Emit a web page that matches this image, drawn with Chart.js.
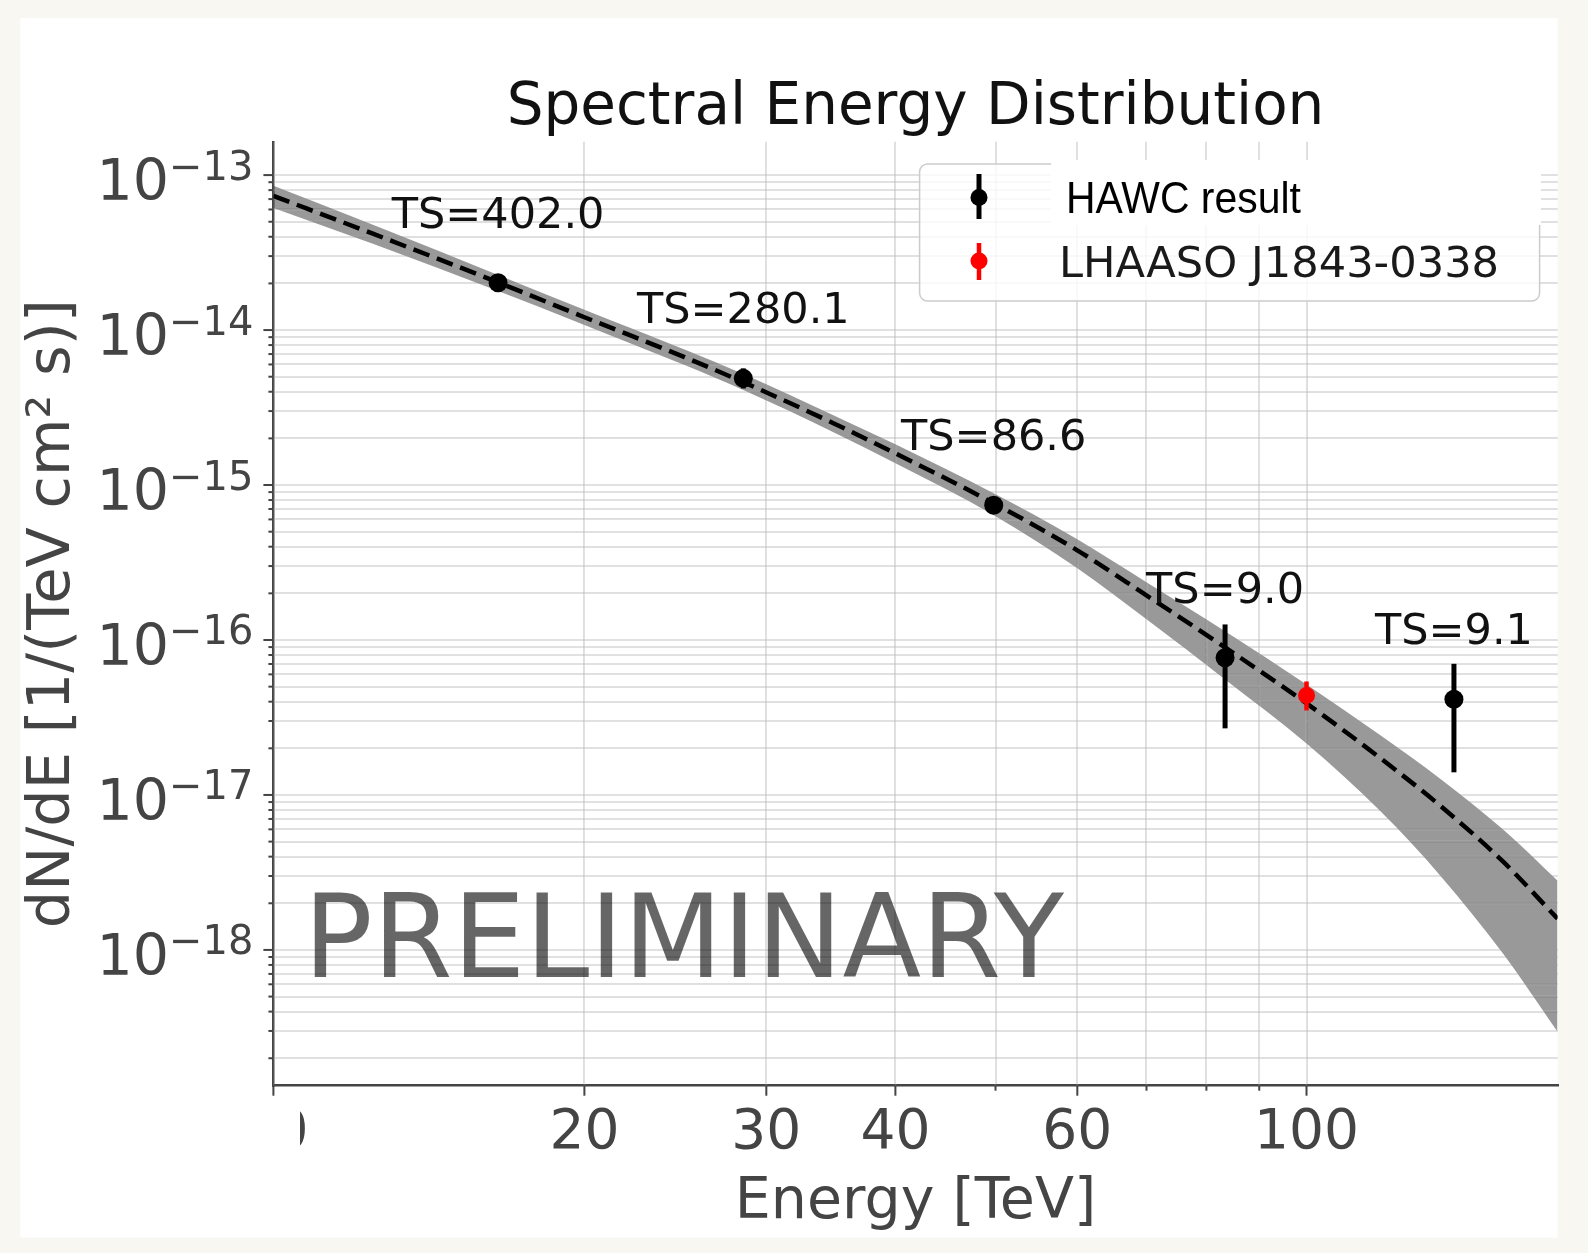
<!DOCTYPE html>
<html>
<head>
<meta charset="utf-8">
<title>Spectral Energy Distribution</title>
<script src="https://cdn.jsdelivr.net/npm/chart.js@4.4.1/dist/chart.umd.min.js"></script>
<style>
  html, body { margin: 0; padding: 0; background: #f8f7f2; }
  canvas { display: block; }
</style>
</head>
<body>
<canvas id="sed" width="1588" height="1253"></canvas>
<script>
// fitted model (dashed) and its 1 sigma band, energies in TeV
const modelEnergy = [10, 12.5, 16.5, 20, 25, 28.5, 35, 40, 50, 60, 70, 83.4, 100, 118, 135, 155, 175];
const modelFlux = [7.34e-14, 4.17e-14, 2.03e-14, 1.21e-14, 6.69e-15, 4.61e-15, 2.47e-15, 1.60e-15, 7.52e-16, 3.79e-16, 1.94e-16, 8.96e-17, 3.90e-17, 1.72e-17, 8.42e-18, 3.71e-18, 1.59e-18];
const bandUpper = [8.52e-14, 4.77e-14, 2.27e-14, 1.35e-14, 7.48e-15, 5.20e-15, 2.78e-15, 1.83e-15, 8.72e-16, 4.47e-16, 2.36e-16, 1.14e-16, 5.17e-17, 2.42e-17, 1.26e-17, 5.98e-18, 2.80e-18];
const bandLower = [6.14e-14, 3.59e-14, 1.79e-14, 1.08e-14, 5.94e-15, 4.10e-15, 2.16e-15, 1.38e-15, 6.29e-16, 2.90e-16, 1.36e-16, 5.57e-17, 2.15e-17, 7.81e-18, 2.97e-18, 9.45e-19, 2.96e-19];

// HAWC flux points
const hawcEnergy = [16.5, 28.5, 49.8, 83.4, 138.9];
const hawcFlux = [2.02e-14, 4.88e-15, 7.40e-16, 7.69e-17, 4.15e-17];
const hawcHigh = [2.17e-14, 5.66e-15, 8.33e-16, 1.26e-16, 7.02e-17];
const hawcLow = [1.88e-14, 4.20e-15, 6.57e-16, 2.69e-17, 1.40e-17];
const hawcTS = ['TS=402.0', 'TS=280.1', 'TS=86.6', 'TS=9.0', 'TS=9.1'];

// LHAASO point
const lhaasoEnergy = [100];
const lhaasoFlux = [4.39e-17];
const lhaasoHigh = [5.40e-17];
const lhaasoLow = [3.51e-17];

// axes
const xTicks = [10, 20, 30, 40, 50, 60, 70, 80, 90, 100];
const xLabels = [10, 20, 30, 40, 60, 100];
const yDecades = [1e-19, 1e-18, 1e-17, 1e-16, 1e-15, 1e-14, 1e-13];
const yMinor = [2, 3, 4, 5, 6, 7, 8, 9];
const yLabelExp = [-18, -17, -16, -15, -14, -13];
const yMin = 1.33e-19, yMax = 1.64e-13;
const xMin = 10, xMax = 175;

const yTicks = [];
yDecades.forEach(d => {
  [1].concat(yMinor).forEach(k => {
    const v = d * k;
    if (v >= yMin && v <= yMax) yTicks.push(v);
  });
});

function pts(xs, ys) {
  return xs.map((x, i) => ({x: x, y: ys[i]}));
}

const FONT = 'DejaVu Sans';
const GREY = '#444444';

function errorBars(ctx, chart, xs, hi, lo, color, w) {
  const sx = chart.scales.x, sy = chart.scales.y;
  ctx.save();
  ctx.strokeStyle = color;
  ctx.lineWidth = w;
  xs.forEach((e, i) => {
    const px = sx.getPixelForValue(e);
    ctx.beginPath();
    ctx.moveTo(px, sy.getPixelForValue(hi[i]));
    ctx.lineTo(px, sy.getPixelForValue(lo[i]));
    ctx.stroke();
  });
  ctx.restore();
}

const decor = {
  id: 'decor',
  beforeDraw(chart) {
    const ctx = chart.ctx;
    ctx.save();
    ctx.fillStyle = '#f8f7f2';
    ctx.fillRect(0, 0, chart.width, chart.height);
    ctx.fillStyle = '#ffffff';
    ctx.fillRect(20.3, 18.2, 1537.3, 1219.4);
    ctx.restore();
  },
  beforeDatasetDraw(chart, args) {
    const ctx = chart.ctx;
    const a = chart.chartArea;
    const sx = chart.scales.x, sy = chart.scales.y;
    if (args.index === 2) {
      // grid shows faintly on top of the band
      ctx.save();
      ctx.beginPath();
      ctx.rect(a.left, a.top, a.right - a.left, a.bottom - a.top);
      ctx.clip();
      ctx.strokeStyle = 'rgba(255,255,255,0.18)';
      ctx.lineWidth = 2;
      yTicks.forEach(v => {
        const py = sy.getPixelForValue(v);
        ctx.beginPath(); ctx.moveTo(a.left, py); ctx.lineTo(a.right, py); ctx.stroke();
      });
      xTicks.forEach(v => {
        const px = sx.getPixelForValue(v);
        ctx.beginPath(); ctx.moveTo(px, a.top); ctx.lineTo(px, a.bottom); ctx.stroke();
      });
      ctx.restore();
    }
    if (args.index === 3) errorBars(ctx, chart, hawcEnergy, hawcHigh, hawcLow, '#000000', 5);
    if (args.index === 4) errorBars(ctx, chart, lhaasoEnergy, lhaasoHigh, lhaasoLow, '#ff0000', 4.5);
  },
  afterDraw(chart) {
    const ctx = chart.ctx;
    const a = chart.chartArea;
    const sx = chart.scales.x, sy = chart.scales.y;
    ctx.save();

    // the "10" label at the corner is mostly hidden in the original
    ctx.fillStyle = '#ffffff';
    ctx.fillRect(150, a.bottom + 14, 150, 70);

    // tick marks
    ctx.strokeStyle = GREY;
    ctx.lineWidth = 2;
    yTicks.forEach(v => {
      const py = sy.getPixelForValue(v);
      const major = yDecades.some(d => Math.abs(d - v) / d < 1e-6);
      ctx.beginPath(); ctx.moveTo(a.left, py); ctx.lineTo(a.left - (major ? 10 : 5), py); ctx.stroke();
    });
    xTicks.forEach(v => {
      const px = sx.getPixelForValue(v);
      const major = xLabels.includes(v);
      ctx.beginPath(); ctx.moveTo(px, a.bottom); ctx.lineTo(px, a.bottom + (major ? 10 : 5)); ctx.stroke();
    });

    // y tick labels 10^n
    ctx.fillStyle = GREY;
    ctx.textBaseline = 'alphabetic';
    ctx.textAlign = 'left';
    yLabelExp.forEach(n => {
      const py = sy.getPixelForValue(Math.pow(10, n));
      const sup = '\u2212' + Math.abs(n);
      ctx.font = '40px ' + FONT;
      const sw = ctx.measureText(sup).width;
      const sxp = a.left - 20 - sw;
      ctx.fillText(sup, sxp, py + 4.5);
      ctx.font = '57px ' + FONT;
      const bw = ctx.measureText('10').width;
      ctx.fillText('10', sxp - bw, py + 24.8);
    });

    // TS annotations
    ctx.fillStyle = '#111111';
    ctx.font = '43px ' + FONT;
    ctx.textAlign = 'center';
    hawcEnergy.forEach((e, i) => {
      ctx.fillText(hawcTS[i], sx.getPixelForValue(e), sy.getPixelForValue(hawcFlux[i]) - 55);
    });

    // watermark
    ctx.fillStyle = 'rgba(0,0,0,0.6)';
    ctx.font = '115px ' + FONT;
    ctx.textAlign = 'left';
    ctx.fillText('PRELIMINARY', a.left + 30, a.bottom - 108.7);

    // legend
    ctx.beginPath();
    ctx.roundRect(919.6, 164, 620, 137, 8);
    ctx.fillStyle = 'rgba(255,255,255,0.8)';
    ctx.fill();
    ctx.strokeStyle = '#cccccc';
    ctx.lineWidth = 1.5;
    ctx.stroke();
    ctx.fillStyle = '#ffffff';
    ctx.fillRect(1051, 160, 490, 65);

    ctx.strokeStyle = '#000000';
    ctx.lineWidth = 5;
    ctx.beginPath(); ctx.moveTo(979, 174); ctx.lineTo(979, 219); ctx.stroke();
    ctx.fillStyle = '#000000';
    ctx.beginPath(); ctx.arc(979, 197.5, 8.5, 0, Math.PI * 2); ctx.fill();
    ctx.strokeStyle = '#ff0000';
    ctx.lineWidth = 4.5;
    ctx.beginPath(); ctx.moveTo(979, 243); ctx.lineTo(979, 280); ctx.stroke();
    ctx.fillStyle = '#ff0000';
    ctx.beginPath(); ctx.arc(979, 261, 8.5, 0, Math.PI * 2); ctx.fill();

    ctx.fillStyle = '#000000';
    ctx.font = '44px "Liberation Sans"';
    ctx.save();
    ctx.translate(1066, 212.5);
    ctx.scale(0.93, 1);
    ctx.fillText('HAWC result', 0, 0);
    ctx.restore();
    ctx.fillStyle = '#1a1a1a';
    ctx.font = '43.2px ' + FONT;
    ctx.fillText('LHAASO J1843-0338', 1059, 277);

    ctx.restore();
  }
};

const ctx = document.querySelector('#sed');

new Chart(ctx, {
  type: 'line',
  data: {
    datasets: [
      {
        label: 'band upper',
        data: pts(modelEnergy, bandUpper),
        borderWidth: 0,
        pointRadius: 0,
        backgroundColor: 'rgba(0,0,0,0.4)',
        fill: '+1',
        cubicInterpolationMode: 'monotone',
        order: 5
      },
      {
        label: 'band lower',
        data: pts(modelEnergy, bandLower),
        borderWidth: 0,
        pointRadius: 0,
        fill: false,
        cubicInterpolationMode: 'monotone',
        order: 4
      },
      {
        label: 'model',
        data: pts(modelEnergy, modelFlux),
        borderColor: '#000000',
        borderWidth: 4.5,
        borderDash: [17, 8],
        pointRadius: 0,
        fill: false,
        cubicInterpolationMode: 'monotone',
        order: 3
      },
      {
        label: 'HAWC result',
        data: pts(hawcEnergy, hawcFlux),
        showLine: false,
        pointRadius: 9.5,
        pointBorderWidth: 0,
        pointBackgroundColor: '#000000',
        order: 2
      },
      {
        label: 'LHAASO J1843-0338',
        data: pts(lhaasoEnergy, lhaasoFlux),
        showLine: false,
        pointRadius: 8.5,
        pointBorderWidth: 0,
        pointBackgroundColor: '#ff0000',
        order: 1
      }
    ]
  },
  options: {
    responsive: false,
    animation: false,
    events: [],
    layout: { padding: { left: 0, right: 30.4, top: 0, bottom: 0 } },
    plugins: {
      legend: { display: false },
      tooltip: { enabled: false },
      title: {
        display: true,
        text: 'Spectral Energy Distribution',
        fullSize: false,
        color: '#111111',
        font: { family: FONT, size: 58, weight: 'normal', lineHeight: 1 },
        padding: { top: 80, bottom: 3.8 }
      }
    },
    scales: {
      x: {
        type: 'logarithmic',
        min: xMin,
        max: xMax,
        afterBuildTicks: s => { s.ticks = xTicks.map(v => ({value: v})); },
        afterFit: s => { s.height = 1253 - 1085.7; },
        grid: { color: 'rgba(0,0,0,0.14)', lineWidth: 2, drawTicks: false },
        border: { display: true, color: GREY, width: 2.5 },
        ticks: {
          autoSkip: false,
          maxRotation: 0,
          padding: 15,
          color: GREY,
          font: { family: FONT, size: 55 },
          callback: v => xLabels.includes(v) ? String(v) : ''
        },
        title: {
          display: true,
          text: 'Energy [TeV]',
          color: GREY,
          font: { family: FONT, size: 57, lineHeight: 1 },
          padding: { top: 0, bottom: 21.5 }
        }
      },
      y: {
        type: 'logarithmic',
        min: yMin,
        max: yMax,
        afterBuildTicks: s => { s.ticks = yTicks.map(v => ({value: v})); },
        afterFit: s => { s.width = 273.4; },
        grid: { color: 'rgba(0,0,0,0.14)', lineWidth: 2, drawTicks: false },
        border: { display: true, color: GREY, width: 2.5 },
        ticks: { display: false },
        title: {
          display: true,
          text: 'dN/dE [1/(TeV cm\u00b2 s)]',
          color: GREY,
          font: { family: FONT, size: 59, lineHeight: 1 },
          padding: { top: 24.2, bottom: 0 }
        }
      }
    }
  },
  plugins: [decor]
});
</script>
</body>
</html>
